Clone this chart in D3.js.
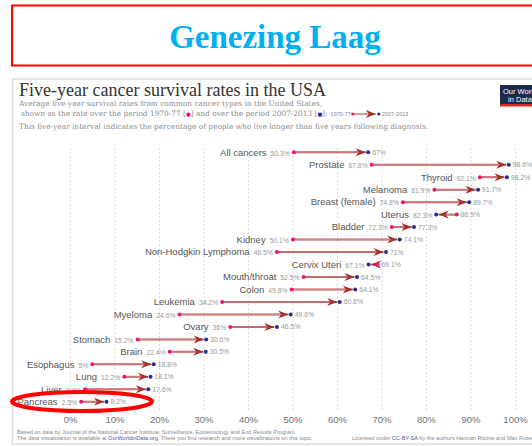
<!DOCTYPE html>
<html>
<head>
<meta charset="utf-8">
<script src="https://cdn.jsdelivr.net/npm/d3@7"></script>
<style>
  body { margin: 0; background: #fff; }
  svg { display: block; font-family: "Liberation Sans", Arial, sans-serif; }
</style>
</head>
<body>
<div id="chart"></div>
<script>
var categories = ["All cancers", "Prostate", "Thyroid", "Melanoma", "Breast (female)", "Uterus", "Bladder",
  "Kidney", "Non-Hodgkin Lymphoma", "Cervix Uteri", "Mouth/throat", "Colon", "Leukemia", "Myeloma",
  "Ovary", "Stomach", "Brain", "Esophagus", "Lung", "Liver", "Pancreas"];
var rate1970 = [50.3, 67.8, 92.1, 81.9, 74.8, 86.9, 72.3, 50.1, 46.5, 69.1, 52.5, 49.8, 34.2, 24.6, 36, 15.2, 22.4, 5, 12.2, 3.4, 2.5];
var rate2007 = [67, 98.6, 98.2, 91.7, 89.7, 82.3, 77.3, 74.1, 71, 67.1, 64.5, 64.1, 60.6, 49.6, 46.5, 30.6, 30.5, 18.8, 18.1, 17.6, 8.2];
var tickValues = [0, 10, 20, 30, 40, 50, 60, 70, 80, 90, 100];

var width = 532, height = 446;
var serif = "'Liberation Serif', 'Times New Roman', serif";
var wideSerif = "'DejaVu Serif', Georgia, serif";
var pink = "#f0136f", blue = "#2a2d8c", lineCol = "#b95656", lineCore = "#d89a9a", headCol = "#a3302b";

var data = categories.map(function(c, i) {
  return { name: c, a: rate1970[i], b: rate2007[i] };
});

var svg = d3.select("#chart").append("svg")
  .attr("width", width)
  .attr("height", height);

svg.append("rect").attr("width", width).attr("height", height).attr("fill", "#fff");

// header box
svg.append("rect")
  .attr("x", 12).attr("y", 5.5).attr("width", 540).attr("height", 60)
  .attr("fill", "none").attr("stroke", "#ff0000").attr("stroke-width", 2);
svg.append("text")
  .attr("x", 275).attr("y", 48)
  .attr("text-anchor", "middle")
  .attr("font-family", serif).attr("font-weight", "bold").attr("font-size", 33)
  .attr("fill", "#00b0f0")
  .text("Genezing Laag");

// chart frame
svg.append("rect")
  .attr("x", 12.5).attr("y", 79).attr("width", 540).attr("height", 365)
  .attr("fill", "none").attr("stroke", "#dcdcdc").attr("stroke-width", 1.5);

var defs = svg.append("defs");
defs.append("marker")
  .attr("id", "arrow")
  .attr("markerUnits", "userSpaceOnUse")
  .attr("viewBox", "-11 -5 12 10")
  .attr("markerWidth", 12).attr("markerHeight", 10)
  .attr("refX", 0).attr("refY", 0)
  .attr("orient", "auto")
  .append("path")
  .attr("d", "M0,0L-10,-4L-7,0L-10,4Z")
  .attr("fill", headCol);

// titles
svg.append("text")
  .attr("x", 19).attr("y", 95.5)
  .attr("font-family", serif).attr("font-size", 18).attr("fill", "#333")
  .text("Five-year cancer survival rates in the USA");

var sub = svg.append("g")
  .attr("font-family", wideSerif).attr("font-size", 7.4).attr("fill", "#8a8a8a");
sub.append("text").attr("x", 19).attr("y", 106)
  .text("Average five-year survival rates from common cancer types in the United States,");
var l2 = sub.append("text").attr("x", 21).attr("y", 116);
l2.append("tspan").text("shown as the rate over the period 1970-77 [");
l2.append("tspan").attr("fill", pink).attr("font-size", 5.5).text("\u25CF");
l2.append("tspan").text("] and over the period 2007-2013 [");
l2.append("tspan").attr("fill", blue).attr("font-size", 5.5).text("\u25CF");
l2.append("tspan").text("]:");
sub.append("text").attr("x", 19).attr("y", 128.5)
  .text("This five-year interval indicates the percentage of people who live longer than five years following diagnosis.");

// legend inside subtitle, placed after line 2
var lx = 21 + l2.node().getComputedTextLength() + 3;
var lg = svg.append("g").attr("font-size", 5.5).attr("fill", "#888");
var t1 = lg.append("text").attr("x", lx).attr("y", 116).text("1970-77");
var p0 = lx + t1.node().getComputedTextLength() + 2;
lg.append("line").attr("x1", p0).attr("x2", p0 + 23).attr("y1", 114).attr("y2", 114)
  .attr("stroke", lineCol).attr("stroke-width", 1.2).attr("marker-end", "url(#arrow)");
lg.append("circle").attr("cx", p0).attr("cy", 114).attr("r", 1.6).attr("fill", pink);
lg.append("circle").attr("cx", p0 + 26).attr("cy", 114).attr("r", 1.6).attr("fill", blue);
lg.append("text").attr("x", p0 + 29).attr("y", 116).text("2007-2013");

// logo
var logo = svg.append("g");
logo.append("rect").attr("x", 500).attr("y", 85).attr("width", 40).attr("height", 20).attr("fill", "#1a2b4c");
logo.append("rect").attr("x", 500).attr("y", 104).attr("width", 40).attr("height", 2.5).attr("fill", "#d42b21");
logo.append("text").attr("x", 520).attr("y", 93.5).attr("text-anchor", "middle")
  .attr("font-size", 7.5).attr("fill", "#fff").text("Our World");
logo.append("text").attr("x", 520).attr("y", 101.5).attr("text-anchor", "middle")
  .attr("font-size", 7.5).attr("fill", "#fff").text("in Data");

// scales
var x = d3.scaleLinear().domain([0, 100]).range([70, 515]);
var y = d3.scaleBand().domain(categories).range([146, 408]);

var axis = svg.append("g")
  .attr("transform", "translate(0,410)")
  .call(d3.axisBottom(x).tickValues(tickValues).tickSize(-265).tickPadding(6)
    .tickFormat(function(d) { return d + "%"; }));
axis.select(".domain").remove();
axis.selectAll(".tick line")
  .attr("stroke", "#ddd").attr("stroke-dasharray", "2,2");
axis.selectAll(".tick text")
  .attr("font-family", "'Liberation Sans', Arial, sans-serif")
  .attr("font-size", 9.5).attr("fill", "#707070");

// rows
var rows = svg.append("g").selectAll("g")
  .data(data)
  .enter()
  .append("g")
  .attr("transform", function(d) { return "translate(0," + (y(d.name) + y.bandwidth() / 2) + ")"; });

rows.append("line")
  .attr("x1", function(d) { return x(d.a); })
  .attr("x2", function(d) { return x(d.b) + (d.b > d.a ? -2.5 : 2.5); })
  .attr("stroke", lineCol).attr("stroke-width", 2)
  .attr("marker-end", "url(#arrow)");
rows.append("line")
  .attr("x1", function(d) { return x(d.a); })
  .attr("x2", function(d) { return x(d.b) + (d.b > d.a ? -9 : 9); })
  .attr("stroke", lineCore).attr("stroke-width", 0.7);

rows.append("circle")
  .attr("cx", function(d) { return x(d.a); })
  .attr("r", 2).attr("fill", pink);
rows.append("circle")
  .attr("cx", function(d) { return x(d.b); })
  .attr("r", 2).attr("fill", blue);

var left = rows.append("text")
  .attr("x", function(d) { return x(Math.min(d.a, d.b)) - 4; })
  .attr("y", 3.3)
  .attr("text-anchor", "end");
left.append("tspan")
  .attr("font-size", 9.5).attr("fill", "#555")
  .text(function(d) { return d.name; });
left.append("tspan")
  .attr("dx", 4).attr("font-size", 6.8).attr("fill", "#999")
  .text(function(d) { return Math.min(d.a, d.b) + "%"; });

rows.append("text")
  .attr("x", function(d) { return x(Math.max(d.a, d.b)) + 4; })
  .attr("y", 2.5)
  .attr("font-size", 6.8).attr("fill", "#999")
  .text(function(d) { return Math.max(d.a, d.b) + "%"; });

// footer
var foot = svg.append("g").attr("font-size", 5.6).attr("fill", "#888");
foot.append("text").attr("x", 17).attr("y", 434)
  .text("Based on data by Journal of the National Cancer Institute; Surveillance, Epidemiology and End Results Program.");
var f2 = foot.append("text").attr("x", 17).attr("y", 439.5);
f2.append("tspan").text("The data visualization is available at ");
f2.append("tspan").attr("fill", "#3b58b5").text("OurWorldinData.org");
f2.append("tspan").text(". There you find research and more visualizations on this topic.");
var f3 = foot.append("text").attr("x", 352).attr("y", 439.5);
f3.append("tspan").text("Licensed under ");
f3.append("tspan").attr("fill", "#3b58b5").text("CC-BY-SA");
f3.append("tspan").text(" by the authors Hannah Ritchie and Max Roser");

// highlight
svg.append("ellipse")
  .attr("cx", 82).attr("cy", 401.5).attr("rx", 70).attr("ry", 9.5)
  .attr("fill", "none").attr("stroke", "#f00").attr("stroke-width", 4);
</script>
</body>
</html>
